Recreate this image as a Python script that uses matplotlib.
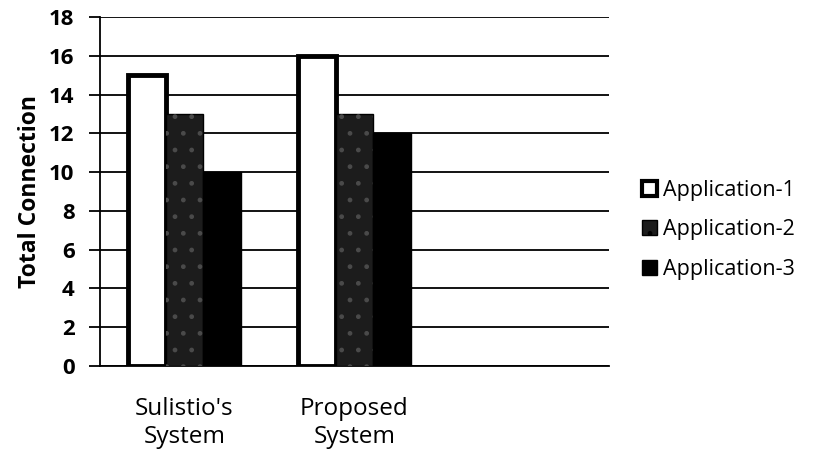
import matplotlib.pyplot as plt
import numpy as np
from matplotlib.patches import Patch

plt.rcParams['font.family'] = ['Open Sans', 'DejaVu Sans']

systems = ["Sulistio's\nSystem", "Proposed\nSystem"]
app1 = [15, 16]
app2 = [13, 13]
app3 = [10, 12]
labels = ["Application-1", "Application-2", "Application-3"]

fig = plt.figure(figsize=(8.17, 4.59), dpi=100)
ax = fig.add_axes([0.1218, 0.2026, 0.6242, 0.7604])

x = np.arange(len(systems))
w = 0.222

ax.bar(x - w, app1, w, color='white', edgecolor='black', linewidth=3.5, zorder=3)
ax.bar(x, app2, w, color='#1c1c1c', edgecolor='black', linewidth=1, zorder=3)
# speckled look on the second series
ax.bar(x, app2, w, color='none', edgecolor='#4a4a4a', hatch='.', linewidth=0, zorder=4)
ax.bar(x + w, app3, w, color='black', edgecolor='black', linewidth=1, zorder=3)

ax.set_xlim(-0.5, 2.5)
ax.set_ylim(0, 18)
ax.set_yticks(range(0, 19, 2))
ax.set_xticks(x)
ax.set_xticklabels(systems, linespacing=1.25)
ax.yaxis.grid(True, color='black', linewidth=1.3)
ax.set_axisbelow(True)

for s in ['top', 'right']:
    ax.spines[s].set_visible(False)
ax.spines['left'].set_linewidth(1.3)
ax.spines['bottom'].set_linewidth(1.3)
ax.tick_params(axis='y', length=8, width=1.3, labelsize=16, pad=10)
ax.tick_params(axis='x', length=0, pad=22, labelsize=17.5)
for t in ax.get_yticklabels():
    t.set_fontweight('bold')

ax.set_ylabel("Total Connection", fontsize=16.5, fontweight='bold', labelpad=5)

handles = [
    Patch(facecolor='white', edgecolor='black', linewidth=3),
    Patch(facecolor='#1c1c1c', edgecolor='black', hatch='.', linewidth=1),
    Patch(facecolor='black', edgecolor='black', linewidth=1),
]
fig.legend(handles, labels, loc='center left', bbox_to_anchor=(0.762, 0.499),
           frameon=False, fontsize=15.5, handlelength=0.7, handleheight=0.7,
           handletextpad=0.3, labelspacing=0.85)

fig.savefig('out.png', dpi=100)
